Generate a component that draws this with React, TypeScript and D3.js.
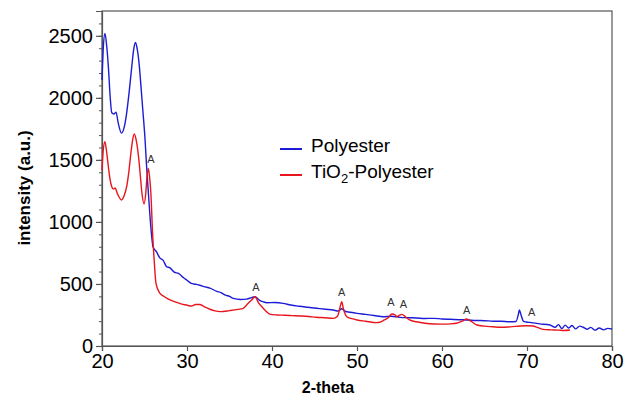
import * as d3 from "d3";
import React, { useEffect, useRef } from "react";

// 2-theta positions and intensities
const polyesterX = [
  20.0, 20.15, 20.35, 20.55, 20.75, 20.95, 21.15, 21.4, 21.65, 21.9, 22.3, 22.6, 22.9, 23.2, 23.5, 23.75,
  23.95, 24.15, 24.4, 24.6, 24.8, 25.05, 25.25, 25.45, 25.65, 25.85, 26.0, 26.4, 26.8, 27.2, 27.6, 28.0,
  28.5, 29.0, 29.6, 30.0, 30.5, 31.0, 31.5, 32.0, 32.7, 33.5, 34.0, 34.5, 35.0, 35.45, 36.3, 37.0, 37.6,
  38.0, 38.5, 39.0, 39.4, 40.3, 41.3, 42.2, 43.2, 44.2, 45.25, 46.3, 47.2, 47.8, 48.2, 48.6, 49.2, 50.0,
  51.0, 52.0, 53.1, 54.0, 55.06, 56.0, 57.0, 58.0, 59.0, 60.0, 61.0, 62.0, 62.9, 64.0, 65.0, 66.0, 67.0,
  68.0, 68.7, 69.0, 69.1, 69.3, 69.6, 70.3, 71.5, 72.7, 73.3, 73.7, 74.1, 74.5, 74.9, 75.3, 75.7, 76.2,
  76.6, 77.1, 77.5, 78.0, 78.5, 79.0, 79.5, 80.0,
];
const polyesterY = [
  2144, 2400, 2520, 2420, 2250, 2020, 1880, 1870, 1885, 1800, 1716, 1760, 1877, 2050, 2250, 2400,
  2446, 2390, 2250, 2080, 1902, 1680, 1445, 1240, 1042, 880, 800, 760, 710, 690, 639, 630,
  595, 585, 550, 530, 505, 498, 490, 478, 467, 440, 430, 410, 400, 384, 375, 378, 390,
  397, 370, 355, 349, 350, 344, 330, 320, 312, 304, 296, 290, 282, 300, 280, 272, 263,
  255, 246, 236, 240, 231, 228, 226, 222, 223, 218, 215, 212, 210, 206, 204, 200, 199,
  196, 198, 260, 290, 250, 198, 190, 178, 169, 150, 172, 140, 168, 145, 165, 138, 160,
  151, 135, 150, 128, 145, 130, 142, 137,
];

const tio2X = [
  20.0, 20.15, 20.35, 20.55, 20.75, 20.95, 21.15, 21.35, 21.55, 21.8, 22.3, 22.6, 22.9, 23.15, 23.4, 23.6,
  23.8, 24.05, 24.3, 24.5, 24.7, 24.95, 25.15, 25.3, 25.45, 25.6, 25.75, 25.95, 26.15, 26.35, 26.8, 27.4,
  28.0, 28.6, 29.3, 29.95, 30.5, 31.0, 31.5, 32.0, 32.7, 33.3, 33.9, 35.0, 36.0, 36.6, 37.2, 37.6, 38.0,
  38.4, 38.8, 39.3, 39.8, 40.6, 41.5, 42.4, 43.3, 44.3, 45.2, 46.2, 47.2, 47.7, 48.0, 48.2, 48.4, 48.8,
  49.4, 50.0, 51.0, 52.3, 52.8, 53.2, 53.7, 54.1, 54.5, 54.7, 55.0, 55.3, 55.7, 56.2, 57.0, 58.0, 59.0,
  60.0, 61.0, 61.7, 62.4, 62.9, 63.4, 64.1, 65.0, 66.0, 66.8, 67.8, 68.6, 69.2, 70.0, 70.7, 71.3, 71.9,
  72.8, 73.7, 74.3, 75.06,
];
const tio2Y = [
  1418, 1580, 1647, 1560, 1445, 1340, 1284, 1265, 1273, 1230, 1177, 1210, 1284, 1400, 1555, 1660,
  1709, 1650, 1526, 1380, 1231, 1145, 1231, 1370, 1432, 1360, 1231, 911, 680, 505, 427, 395,
  371, 355, 340, 330, 322, 334, 335, 318, 296, 283, 277, 285, 295, 304, 344, 370, 397,
  350, 317, 280, 255, 250, 248, 245, 242, 238, 232, 228, 223, 240, 310, 357, 300, 236,
  220, 210, 200, 188, 195, 210, 230, 258, 250, 236, 248, 255, 235, 210, 195, 183, 177,
  176, 178, 183, 200, 218, 200, 169, 160, 155, 151, 153, 158, 161, 163, 161, 148, 134,
  130, 128, 125, 129,
];

// anatase peak markers
const peakX = [25.76, 38.1, 48.2, 54.0, 55.45, 62.9, 70.55];
const peakY = [1505, 478, 433, 352, 339, 290, 277];

const xTicks = [20, 30, 40, 50, 60, 70, 80];
const yTicks = [0, 500, 1000, 1500, 2000, 2500];

const App = () => {
  const chartRef = useRef<SVGSVGElement | null>(null);

  useEffect(() => {
    const width = 625;
    const height = 403;
    const margin = { top: 11, right: 13, bottom: 57, left: 102 };
    const font = "Arial, 'Liberation Sans', sans-serif";

    const svg = d3.select(chartRef.current);
    svg.selectAll("*").remove();
    svg.attr("width", width).attr("height", height);

    const x = d3.scaleLinear().domain([20, 80]).range([margin.left, width - margin.right]);
    const y = d3.scaleLinear().domain([0, 2700]).range([height - margin.bottom, margin.top]);

    // frame
    svg.append("rect")
      .attr("x", margin.left)
      .attr("y", margin.top)
      .attr("width", width - margin.left - margin.right)
      .attr("height", height - margin.top - margin.bottom)
      .attr("fill", "none")
      .attr("stroke", "#555")
      .attr("stroke-width", 1.2);

    // minor y ticks every 100
    svg.append("g")
      .attr("transform", `translate(${margin.left},0)`)
      .call(d3.axisLeft(y).tickValues(d3.range(0, 2701, 100)).tickSize(3).tickFormat(() => ""))
      .call(g => g.select(".domain").remove())
      .call(g => g.selectAll("line").attr("stroke", "#555"));

    const yAxis = svg.append("g")
      .attr("transform", `translate(${margin.left},0)`)
      .call(d3.axisLeft(y).tickValues(yTicks).tickSize(6).tickPadding(3).tickFormat(d3.format("d")));
    yAxis.select(".domain").attr("stroke", "#555").attr("stroke-width", 1.2);
    yAxis.selectAll("line").attr("stroke", "#555").attr("stroke-width", 1.2);
    yAxis.selectAll("text").attr("font-family", font).attr("font-size", 20).attr("fill", "#000");

    const xAxis = svg.append("g")
      .attr("transform", `translate(0,${height - margin.bottom})`)
      .call(d3.axisBottom(x).tickValues(xTicks).tickSize(5).tickPadding(3).tickFormat(d3.format("d")));
    xAxis.select(".domain").attr("stroke", "#555").attr("stroke-width", 1.2);
    xAxis.selectAll("line").attr("stroke", "#555").attr("stroke-width", 1.2);
    xAxis.selectAll("text").attr("font-family", font).attr("font-size", 20).attr("fill", "#000");

    const line = d3.line<[number, number]>()
      .x(d => x(d[0]))
      .y(d => y(d[1]))
      .curve(d3.curveMonotoneX);

    svg.append("path")
      .datum(polyesterX.map((v, i) => [v, polyesterY[i]] as [number, number]))
      .attr("d", line)
      .attr("fill", "none")
      .attr("stroke", "#1c1cd6")
      .attr("stroke-width", 1.4);

    svg.append("path")
      .datum(tio2X.map((v, i) => [v, tio2Y[i]] as [number, number]))
      .attr("d", line)
      .attr("fill", "none")
      .attr("stroke", "#e8161c")
      .attr("stroke-width", 1.4);

    // "A" peak labels
    svg.append("g")
      .selectAll("text")
      .data(peakX)
      .enter()
      .append("text")
      .attr("x", d => x(d))
      .attr("y", (d, i) => y(peakY[i]) + 4)
      .attr("text-anchor", "middle")
      .attr("font-family", font)
      .attr("font-size", 11)
      .attr("fill", "#333")
      .text("A");

    // legend
    const legend = svg.append("g").attr("font-family", font).attr("font-size", 19);
    legend.append("line")
      .attr("x1", 280).attr("x2", 302).attr("y1", 149).attr("y2", 149)
      .attr("stroke", "#1c1cd6").attr("stroke-width", 2);
    legend.append("text").attr("x", 311).attr("y", 152).text("Polyester");
    legend.append("line")
      .attr("x1", 280).attr("x2", 302).attr("y1", 175).attr("y2", 175)
      .attr("stroke", "#e8161c").attr("stroke-width", 2);
    const t2 = legend.append("text").attr("x", 311).attr("y", 178);
    t2.append("tspan").text("TiO");
    t2.append("tspan").attr("font-size", 13).attr("dy", 5).text("2");
    t2.append("tspan").attr("dy", -5).text("-Polyester");

    // axis titles
    svg.append("text")
      .attr("x", 328)
      .attr("y", 393)
      .attr("text-anchor", "middle")
      .attr("font-family", font)
      .attr("font-weight", "bold")
      .attr("font-size", 16)
      .text("2-theta");

    svg.append("text")
      .attr("transform", `translate(30,188) rotate(-90)`)
      .attr("text-anchor", "middle")
      .attr("font-family", font)
      .attr("font-weight", "bold")
      .attr("font-size", 17)
      .text("intensity (a.u.)");
  }, []);

  return (
    <div style={{ position: "fixed", left: 0, top: 0, background: "#fff" }}>
      <svg ref={chartRef}></svg>
    </div>
  );
};

export default App;
